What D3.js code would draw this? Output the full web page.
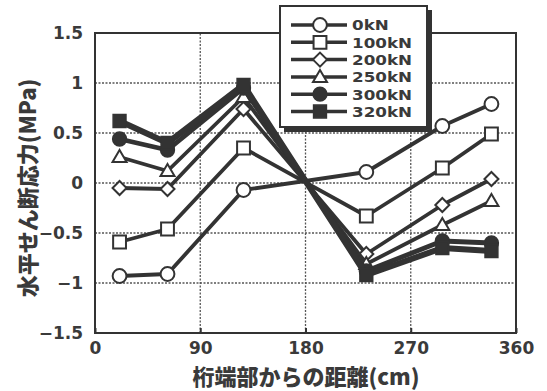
<!DOCTYPE html>
<html>
<head>
<meta charset="utf-8">
<script src="https://cdn.jsdelivr.net/npm/d3@7"></script>
<style>
  html, body { margin: 0; padding: 0; background: #fff; }
  svg { display: block; }
</style>
</head>
<body>
<svg id="chart" width="547" height="391"></svg>
<script>
// Distance from girder end (cm) where stress was measured
const distances = [21, 62, 127, 232, 297, 339];

// Horizontal shear stress (MPa) for each load level
const loads = ["0kN", "100kN", "200kN", "250kN", "300kN", "320kN"];
const stress0   = [-0.93, -0.91, -0.07,  0.11,  0.57,  0.79];
const stress100 = [-0.59, -0.46,  0.35, -0.33,  0.15,  0.49];
const stress200 = [-0.05, -0.06,  0.74, -0.71, -0.22,  0.04];
const stress250 = [ 0.26,  0.12,  0.86, -0.81, -0.42, -0.18];
const stress300 = [ 0.44,  0.33,  0.95, -0.88, -0.58, -0.60];
const stress320 = [ 0.62,  0.40,  0.98, -0.92, -0.65, -0.68];

const xTicks = [0, 90, 180, 270, 360];
const yTicks = [-1.5, -1, -0.5, 0, 0.5, 1, 1.5];

const series = [
  { name: loads[0], values: stress0,   symbol: "circle",   fill: "#fff", width: 3.8 },
  { name: loads[1], values: stress100, symbol: "square",   fill: "#fff", width: 3.8 },
  { name: loads[2], values: stress200, symbol: "diamond",  fill: "#fff", width: 3.8 },
  { name: loads[3], values: stress250, symbol: "triangle", fill: "#fff", width: 3.8 },
  { name: loads[4], values: stress300, symbol: "circle",   fill: "#333", width: 4.8 },
  { name: loads[5], values: stress320, symbol: "square",   fill: "#333", width: 6 }
];

const ink = "#333";
const textInk = "#3a3a3a";
const svg = d3.select("#chart");
const margin = { left: 95, right: 31, top: 33, bottom: 58 };
const W = 547, H = 391;

const x = d3.scaleLinear().domain([0, 360]).range([margin.left, W - margin.right]);
const y = d3.scaleLinear().domain([-1.5, 1.5]).range([H - margin.bottom, margin.top]);

const numFont = "'DejaVu Sans', sans-serif";
const jpFont = "'Noto Sans CJK JP', sans-serif";

// Dotted grid
const grid = svg.append("g");
grid.selectAll("line.gy").data(yTicks.slice(1, -1)).join("line")
  .attr("x1", x(0)).attr("x2", x(360))
  .attr("y1", d => y(d)).attr("y2", d => y(d))
  .attr("stroke", "#555").attr("stroke-width", 1.3).attr("stroke-dasharray", "2,1.5");
grid.selectAll("line.gx").data(xTicks.slice(1, -1)).join("line")
  .attr("y1", y(-1.5)).attr("y2", y(1.5))
  .attr("x1", d => x(d)).attr("x2", d => x(d))
  .attr("stroke", "#555").attr("stroke-width", 1.3).attr("stroke-dasharray", "2,1.5");

// Axes
const xAxis = svg.append("g").attr("transform", `translate(0,${y(-1.5)})`)
  .call(d3.axisBottom(x).tickValues(xTicks).tickSize(-5).tickPadding(9).tickFormat(d3.format("d")));
const yAxis = svg.append("g").attr("transform", `translate(${x(0)},0)`)
  .call(d3.axisLeft(y).tickValues(yTicks).tickSize(0).tickPadding(12)
    .tickFormat(d => d === 0 ? "0" : String(d).replace("-", "\u2212")));
[xAxis, yAxis].forEach(a => {
  a.select(".domain").remove();
  a.selectAll(".tick line").attr("stroke", ink).attr("stroke-width", 2);
  a.selectAll("text").attr("fill", textInk).style("font-family", numFont)
    .style("font-size", "17px").style("font-weight", "bold");
});

// Plot frame
svg.append("rect")
  .attr("x", x(0)).attr("y", y(1.5))
  .attr("width", x(360) - x(0)).attr("height", y(-1.5) - y(1.5))
  .attr("fill", "none").attr("stroke", ink).attr("stroke-width", 2);

// Axis titles
svg.append("text")
  .attr("x", 306).attr("y", 385)
  .attr("text-anchor", "middle").attr("fill", textInk)
  .style("font-family", jpFont).style("font-size", "22px").style("font-weight", "900")
  .text("桁端部からの距離(cm)");
svg.append("text")
  .attr("transform", `translate(36,188) rotate(-90)`)
  .attr("text-anchor", "middle").attr("fill", textInk)
  .style("font-family", jpFont).style("font-size", "22px").style("font-weight", "900")
  .text("水平せん断応力(MPa)");

// Marker shapes
const shapes = {
  circle: d3.symbol().type(d3.symbolCircle).size(150)(),
  square: d3.symbol().type(d3.symbolSquare).size(165)(),
  diamond: "M0,-7L7,0L0,7L-7,0Z",
  triangle: "M0,-7L7,5L-7,5Z"
};
function marker(sel, s) {
  sel.attr("d", shapes[s.symbol])
    .attr("fill", s.fill).attr("stroke", ink).attr("stroke-width", s.fill === "#fff" ? 2 : 1.5)
    .attr("stroke-linejoin", "miter");
}

const line = d3.line().x(d => x(d[0])).y(d => y(d[1]));
const plot = svg.append("g");
series.forEach(s => {
  const pts = distances.map((d, i) => [d, s.values[i]]);
  const g = plot.append("g");
  g.append("path").datum(pts).attr("d", line)
    .attr("fill", "none").attr("stroke", ink).attr("stroke-width", s.width)
    .attr("stroke-linejoin", "round");
  g.selectAll("path.m").data(pts).join("path").attr("class", "m")
    .attr("transform", d => `translate(${x(d[0])},${y(d[1])})`)
    .call(marker, s);
});

// Legend
const lg = svg.append("g").attr("transform", "translate(280,6)");
lg.append("rect").attr("x", 4).attr("y", 4).attr("width", 148).attr("height", 122).attr("fill", ink);
lg.append("rect").attr("x", 0).attr("y", 0).attr("width", 147).attr("height", 121)
  .attr("fill", "#fff").attr("stroke", ink).attr("stroke-width", 2);
series.forEach((s, i) => {
  const row = lg.append("g").attr("transform", `translate(0,${19 + i * 17.3})`);
  row.append("line").attr("x1", 11).attr("x2", 67).attr("y1", 0).attr("y2", 0)
    .attr("stroke", ink).attr("stroke-width", 3.5);
  row.append("path").attr("transform", "translate(40,0)").call(marker, s);
  row.append("text").attr("transform", "translate(72,0) scale(1.13,1)")
    .attr("dy", "0.37em")
    .attr("fill", textInk).style("font-family", numFont)
    .style("font-size", "14.8px").style("font-weight", "bold").text(s.name);
});
</script>
</body>
</html>
